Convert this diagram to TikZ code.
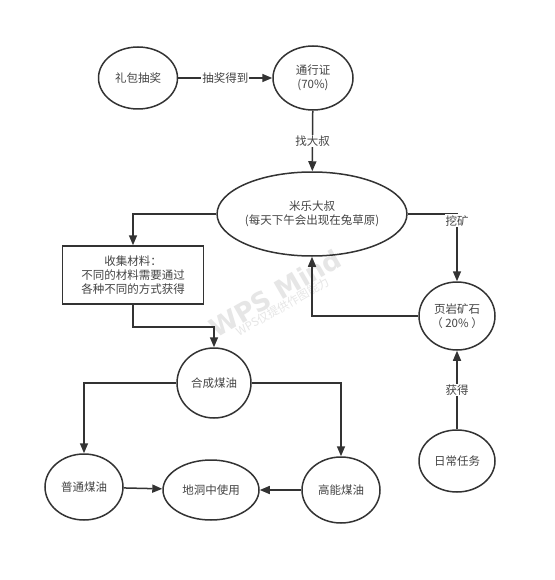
\documentclass[tikz,border=0pt]{standalone}
\usepackage{fontspec}
\setmainfont{Noto Sans CJK SC}
\newfontfamily\wmfont{DejaVu Sans}
\usetikzlibrary{shapes.geometric,arrows.meta}
\definecolor{ln}{HTML}{333333}
\definecolor{tx}{HTML}{444444}
\definecolor{wm}{HTML}{E6E6E6}
\tikzset{
  ell/.style={ellipse,draw=ln,line width=1.5pt,inner sep=0pt,align=center,text=tx,font=\fontsize{11.5}{14}\selectfont},
  rbox/.style={rectangle,draw=ln,line width=1.5pt,inner sep=0pt,align=center,text=tx,font=\fontsize{11.5}{14}\selectfont},
  arr/.style={draw=ln,line width=1.5pt,-{Triangle[length=10pt,width=8pt]}},
  lab/.style={fill=white,inner sep=1pt,text=tx,font=\fontsize{11.5}{14}\selectfont}
}
\begin{document}
\begin{tikzpicture}[x=1pt,y=-1pt]
\useasboundingbox[fill=white] (0,0) rectangle (554,580);
% watermark
\node[rotate=30,text=wm,align=center,inner sep=0pt] (wm) at (278,298)
  {{\wmfont\fontsize{26}{24}\selectfont\bfseries WPS Mind}\\[-2pt]{\fontsize{11.5}{13}\selectfont WPS仅提供作图能力}};
% nodes
\node[ell,minimum width=79pt,minimum height=62pt] (lb) at (138,78) {礼包抽奖};
\node[ell,minimum width=80pt,minimum height=64pt] (tx) at (313,78) {通行证\\(70\%)};
\node[ell,minimum width=176pt,minimum height=84pt] (ml) at (312,214) {米乐大叔\\(每天下午会出现在兔草原)};
\node[rbox,minimum width=141pt,minimum height=58pt] (box) at (133,275) {收集材料：\\不同的材料需要通过\\各种不同的方式获得};
\node[ell,minimum width=74pt,minimum height=70pt] (hc) at (214,383) {合成煤油};
\node[ell,minimum width=76pt,minimum height=68pt] (yy) at (457,316) {页岩矿石\\（ 20\% ）};
\node[ell,minimum width=76pt,minimum height=62pt] (rc) at (457,461) {日常任务};
\node[ell,minimum width=78pt,minimum height=66pt] (pt) at (84,487) {普通煤油};
\node[ell,minimum width=96pt,minimum height=60pt] (dd) at (211,490) {地洞中使用};
\node[ell,minimum width=78pt,minimum height=66pt] (gn) at (341,490) {高能煤油};
\coordinate (k1) at (0,327);
% edges
\draw[arr] (lb) -- node[lab] (l1) {抽奖得到} (tx);
\draw[arr] (tx) -- node[lab] (l2) {找大叔} (ml);
\draw[arr] (ml.east) -| node[lab,pos=0.55] (l3) {挖矿} (yy.north);
\draw[arr] (rc) -- node[lab] (l4) {获得} (yy);
\draw[arr] (yy.west) -| (ml.south);
\draw[arr] (ml.west) -| (box.north);
\draw[arr] (box.south) |- (hc.north |- k1) -- (hc.north);
\draw[arr] (hc.west) -| (pt.north);
\draw[arr] (hc.east) -| (gn.north);
\draw[arr] (pt) -- (dd);
\draw[arr] (gn) -- (dd);
\end{tikzpicture}
\end{document}
